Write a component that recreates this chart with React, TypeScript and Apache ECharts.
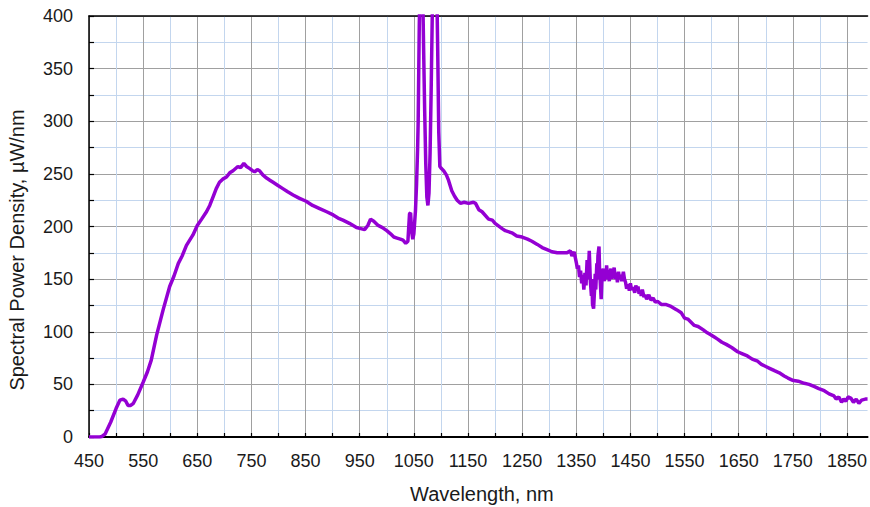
import React, { useEffect, useRef } from "react";
import * as echarts from "echarts";

const wavelengths: number[] = [
  450, 460, 470, 474, 480, 490, 500, 507, 513, 518, 522, 527, 532, 540, 550, 558, 565, 575, 587, 599,
  607, 615, 622, 630, 642, 650, 658, 667, 673, 679, 685, 691, 697, 704, 710, 716, 725, 730, 736, 741,
  747, 752, 756, 761, 765, 771, 778, 784, 790, 799, 808, 817, 827, 838, 851, 863, 876, 889, 901, 910,
  919, 931, 944, 952, 959, 965, 970, 976, 984, 992, 1000, 1007, 1013, 1019, 1025, 1030, 1035, 1039, 1042, 1044,
  1046, 1048, 1050, 1053, 1055, 1057, 1058, 1060, 1062, 1064, 1066, 1068, 1070, 1072, 1074, 1076, 1078, 1080, 1082, 1084,
  1086, 1088, 1090, 1092, 1094, 1096, 1098, 1101, 1105, 1110, 1114, 1117, 1120, 1125, 1130, 1136, 1143, 1151, 1160, 1164,
  1170, 1176, 1188, 1195, 1200, 1213, 1219, 1231, 1240, 1250, 1260, 1268, 1278, 1287, 1296, 1305, 1315, 1324, 1333, 1339,
  1342, 1346, 1350, 1352, 1354, 1356, 1358, 1360, 1362, 1364, 1366, 1368, 1370, 1372, 1374, 1376, 1378, 1379, 1380, 1382,
  1384, 1385, 1386, 1388, 1389, 1390, 1392, 1393, 1394, 1396, 1397, 1398, 1400, 1402, 1403, 1405, 1406, 1408, 1409, 1411,
  1412, 1414, 1415, 1417, 1418, 1420, 1422, 1424, 1426, 1428, 1430, 1432, 1434, 1437, 1439, 1441, 1443, 1446, 1448, 1450,
  1452, 1455, 1458, 1460, 1462, 1464, 1466, 1468, 1470, 1472, 1475, 1477, 1480, 1484, 1488, 1492, 1496, 1500, 1507, 1515,
  1525, 1535, 1544, 1550, 1556, 1562, 1568, 1575, 1584, 1592, 1599, 1605, 1611, 1619, 1627, 1637, 1648, 1657, 1666, 1675,
  1685, 1692, 1700, 1708, 1716, 1725, 1734, 1741, 1749, 1760, 1771, 1780, 1789, 1798, 1808, 1817, 1826, 1830, 1835, 1840,
  1844, 1848, 1852, 1857, 1862, 1867, 1872, 1877, 1884, 1888,
];

const powerDensity: number[] = [
  0, 0, 0, 0.5, 3, 14, 27, 35, 36, 34, 30, 30, 32, 40, 52, 62, 73, 97, 121, 143,
  153, 165, 172, 182, 192, 201, 207, 214, 220, 228, 236, 242, 245, 247, 251, 253, 257, 256, 260, 257,
  255, 253, 252, 254, 253, 249, 246, 244, 242, 239, 236, 233, 230, 227, 224, 220, 217, 214, 211, 208,
  206, 203, 199, 198, 197, 201, 207, 205, 201, 199, 196, 193, 190, 189, 188, 187, 184, 186, 212, 213,
  195, 188, 193, 215, 240, 275, 300, 390, 450, 480, 435, 370, 310, 260, 228, 220, 232, 270, 330, 400,
  480, 530, 510, 440, 370, 290, 257, 255, 253, 249, 244, 239, 234, 229, 225, 222, 223, 222, 223, 222,
  216, 214, 207, 206, 203, 198, 196, 194, 191, 190, 188, 186, 183, 180, 178, 176, 175, 175, 175, 177,
  172, 176, 166, 160, 163, 152, 158, 146, 154, 140, 156, 144, 168, 150, 177, 148, 134, 150, 126, 122,
  142, 155, 140, 165, 150, 172, 181, 160, 150, 131, 145, 155, 160, 148, 157, 150, 163, 152, 158, 148,
  155, 160, 150, 158, 152, 161, 150, 156, 147, 157, 150, 154, 148, 157, 150, 147, 141, 145, 139, 146,
  140, 142, 137, 144, 139, 143, 136, 139, 134, 140, 133, 135, 131, 135, 130, 132, 128, 129, 126, 126,
  124, 121, 118, 113, 112, 109, 106, 105, 102, 99, 97, 95, 93, 90, 88, 85, 81, 79, 77, 74,
  72, 69, 67, 65, 63, 61, 58, 56, 54, 53, 51, 50, 48, 46, 44, 41, 39, 36, 38, 33,
  36, 34, 38, 37, 33, 36, 32, 35, 36, 36,
];

const xMin = 450;
const xMax = 1888;
const xStep = 50;
const yMin = 0;
const yMax = 400;
const yStep = 25;

const xTitle = "Wavelength, nm";
const yTitle = "Spectral Power Density, µW/nm";

const FONT = "'Liberation Sans', Arial, sans-serif";
const MAJOR = "#a0a0a0";
const MINOR = "#c3d6ee";

export default function App() {
  const ref = useRef<HTMLDivElement>(null);

  useEffect(() => {
    if (!ref.current) return;
    const chart = echarts.init(ref.current, undefined, { renderer: "svg" });
    const data = wavelengths.map((w, i) => [w, powerDensity[i]]);
    chart.setOption({
      animation: false,
      backgroundColor: "#ffffff",
      grid: { left: 89, top: 16, right: 0, bottom: 70, containLabel: false },
      graphic: [
        {
          type: "text",
          left: 410,
          top: 484,
          style: { text: xTitle, fontFamily: FONT, fontSize: 20, fill: "#1a1a1a" },
        },
        {
          type: "text",
          x: 17,
          y: 250,
          rotation: Math.PI / 2,
          style: {
            text: yTitle,
            fontFamily: FONT,
            fontSize: 20,
            fill: "#1a1a1a",
            align: "center",
            verticalAlign: "middle",
          },
        },
      ],
      xAxis: [
        {
          type: "value",
          min: xMin,
          max: xMax,
          interval: xStep,
          position: "bottom",
          axisLine: { show: true, onZero: false, lineStyle: { color: "#000", width: 2 } },
          axisTick: { show: true, inside: true, length: 4, lineStyle: { color: "#000", width: 1.2 } },
          axisLabel: {
            show: true,
            margin: 15,
            fontFamily: FONT,
            fontSize: 18,
            color: "#1a1a1a",
            showMaxLabel: false,
            formatter: (v: number) => ((v - xMin) % 100 === 0 && v <= 1850 ? String(v) : ""),
          },
          splitLine: { show: true, showMaxLine: false, lineStyle: { color: [MAJOR, MINOR], width: 1 } },
        },
        {
          type: "value",
          min: xMin,
          max: xMax,
          position: "top",
          axisLine: { show: true, onZero: false, lineStyle: { color: "#000", width: 1.5 } },
          axisTick: { show: false },
          axisLabel: { show: false },
          splitLine: { show: false },
        },
      ],
      yAxis: {
        type: "value",
        min: yMin,
        max: yMax,
        interval: yStep,
        axisLine: { show: true, lineStyle: { color: "#000", width: 1.5 } },
        axisTick: { show: true, inside: true, length: 5, lineStyle: { color: "#000", width: 1.2 } },
        axisLabel: {
          show: true,
          margin: 16,
          fontFamily: FONT,
          fontSize: 18,
          color: "#1a1a1a",
          formatter: (v: number) => (v % 50 === 0 ? String(v) : ""),
        },
        splitLine: { show: true, lineStyle: { color: [MAJOR, MINOR], width: 1 } },
      },
      series: [
        {
          type: "line",
          xAxisIndex: 0,
          data,
          showSymbol: false,
          symbol: "none",
          clip: true,
          lineStyle: { color: "#9400d3", width: 3.5 },
          z: 5,
        },
      ],
    });
    return () => chart.dispose();
  }, []);

  return (
    <div
      ref={ref}
      style={{ position: "absolute", left: 0, top: 0, width: 870, height: 507, background: "#fff" }}
    />
  );
}
